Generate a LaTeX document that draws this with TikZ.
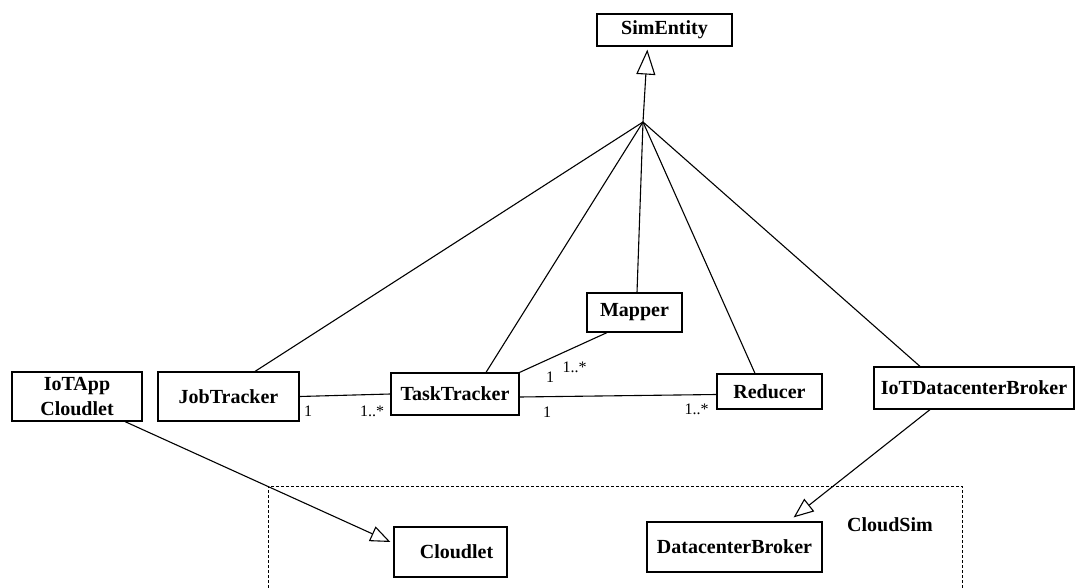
\documentclass[tikz,border=0pt]{standalone}
\usepackage{fontspec}
\setmainfont{Liberation Serif}
\usetikzlibrary{arrows.meta}
\begin{document}
\begin{tikzpicture}[x=1pt,y=-1pt,
 box/.style={draw,line width=1.2pt,font=\fontsize{20}{25}\selectfont\bfseries,inner sep=0pt,align=center},
 mult/.style={font=\fontsize{16}{18}\selectfont,inner sep=0pt},
 conn/.style={line width=1.1pt},
 gen/.style={conn,-{Triangle[open,length=20pt,width=16pt,line width=1.1pt]}},
 gentop/.style={conn,-{Triangle[open,length=25pt,width=19pt,line width=1.1pt]}}]
\useasboundingbox (0,0) rectangle (1075,588);

% packages frame
\draw[dash pattern=on 3pt off 2pt, line width=0.8pt] (268,588) -- (268,486) -- (962,486) -- (962,588);
\node[font=\fontsize{20}{24}\selectfont\bfseries,inner sep=0pt] (cs) at (890,525) {CloudSim};

% classes
\node[box,minimum width=135pt,minimum height=32pt] (se) at (664.5,30) {SimEntity};
\node[box,minimum width=130pt,minimum height=49pt] (ioa) at (77,396.5) {IoTApp\\Cloudlet};
\node[box,minimum width=141pt,minimum height=49pt] (jt) at (228.5,396.5) {JobTracker};
\node[box,minimum width=128pt,minimum height=42pt] (tt) at (455,394) {TaskTracker};
\node[box,minimum width=95pt,minimum height=39pt] (mp) at (634.5,312.5) {Mapper};
\node[box,minimum width=105pt,minimum height=35pt] (rd) at (769.5,391.5) {Reducer};
\node[box,minimum width=200pt,minimum height=42pt] (iot) at (974,388) {IoTDatacenterBroker};
\node[box,minimum width=113pt,minimum height=50pt] (cl) at (450.5,552) {\hspace*{12pt}Cloudlet};
\node[box,minimum width=175pt,minimum height=50pt] (dcb) at (734.5,547) {DatacenterBroker};

% generalisation to SimEntity
\coordinate (apex) at (643,122);
\draw[gentop,shorten >=3pt] (apex) -- ([xshift=-17pt]se.south);
\draw[conn] (apex) -- ([xshift=26.5pt]jt.north);
\draw[conn] (apex) -- ([xshift=31pt]tt.north);
\draw[conn] (apex) -- ([xshift=2.5pt]mp.north);
\draw[conn] (apex) -- ([xshift=-14.5pt]rd.north);
\draw[conn] (apex) -- ([xshift=-54pt]iot.north);

% associations
\draw[conn] (jt.east) -- (tt.west);
\draw[conn] (tt.north east) -- ([xshift=-27.5pt]mp.south);
\draw[conn] ([yshift=-3pt]tt.east) -- ([yshift=-3pt]rd.west);

% multiplicities
\node[mult] (m1) at (308,411) {1};
\node[mult] (m2) at (372,411) {1..*};
\node[mult] (m3) at (550,377) {1};
\node[mult] (m4) at (574.5,367) {1..*};
\node[mult] (m5) at (547,412.5) {1};
\node[mult] (m6) at (696.5,409) {1..*};

% generalisation into CloudSim
\draw[gen] ([xshift=48pt]ioa.south) -- ([xshift=-3pt,yshift=10pt]cl.west);
\draw[gen] ([xshift=-44pt]iot.south) -- ([xshift=-29pt,yshift=4pt]dcb.north east);
\end{tikzpicture}
\end{document}
